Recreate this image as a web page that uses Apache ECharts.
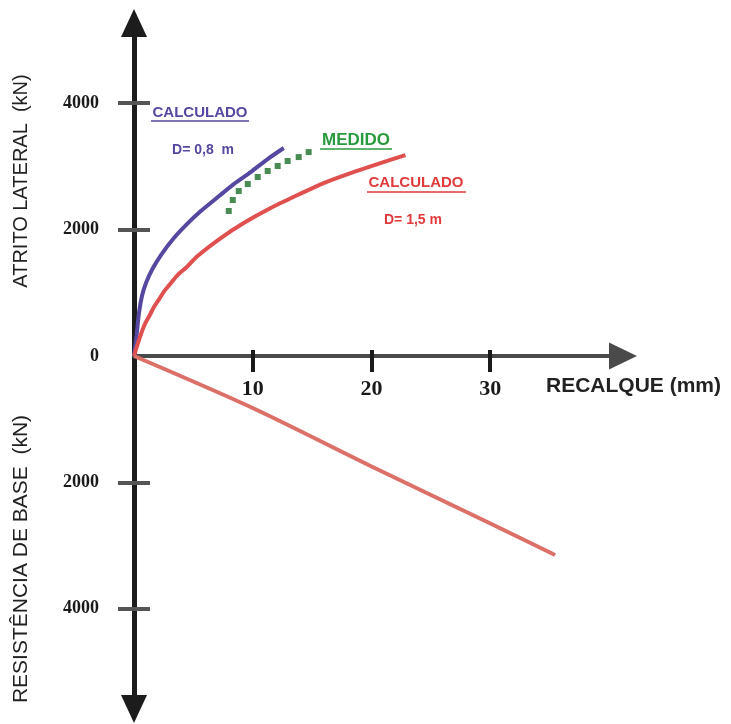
<!DOCTYPE html>
<html><head><meta charset="utf-8">
<script src="https://cdn.jsdelivr.net/npm/echarts@6/dist/echarts.min.js"></script>
<style>html,body{margin:0;padding:0;background:#fff}#c{width:731px;height:724px}</style>
</head><body><div id="c"></div>
<script>
// x: recalque (mm); y: atrito lateral (+) / resistência de base (-) in kN
const recalqueTicks = [10, 20, 30];
const forceTicks = [-4000, -2000, 0, 2000, 4000];

const calculado08 = [[0,0],[0.21,316],[0.42,680],[0.67,949],[1.01,1155],[1.55,1376],[2.27,1598],[3.36,1867],[4.37,2072],[5.63,2294],[7.06,2515],[8.40,2721],[9.83,2911],[11.26,3117],[12.61,3291]];
const calculado15 = [[0,0],[0.31,190],[0.59,348],[0.92,506],[1.29,633],[1.68,775],[2.13,902],[2.55,1028],[2.97,1123],[3.67,1281],[4.45,1408],[5.35,1582],[7.31,1867],[9.24,2104],[11.51,2341],[13.78,2547],[15.97,2737],[18.24,2895],[20.50,3037],[22.86,3180]];
const medido = [[7.98,2294],[8.32,2468],[8.82,2610],[9.58,2721],[10.42,2832],[11.26,2927],[12.10,3006],[12.94,3085],[13.87,3148],[14.71,3227]];
const resistenciaBase = [[0,0],[10.08,-830],[19.92,-1740],[29.75,-2626],[35.46,-3148]];

const SANS = '"Liberation Sans", Arial, sans-serif';
const SERIF = '"Liberation Serif", "Times New Roman", serif';

const Y_MIN = -5585, Y_MAX = 5269;
const GRID = {left: 134, right: 108, top: 23, bottom: 15};
const gridHeight = 724 - GRID.top - GRID.bottom;
// distance from the grid bottom up to the zero line, so the labelled axis sits on y = 0
const zeroOffset = -gridHeight * (0 - Y_MIN) / (Y_MAX - Y_MIN);

const chart = echarts.init(document.getElementById('c'), null, {renderer: 'canvas'});
const xCommon = {type: 'value', min: 0, max: 41.18, interval: 10, position: 'bottom', splitLine: {show: false}};
const yCommon = {type: 'value', min: Y_MIN, max: Y_MAX, position: 'left', splitLine: {show: false}};

chart.setOption({
  animation: false,
  backgroundColor: '#ffffff',
  grid: Object.assign({containLabel: false, outerBoundsMode: 'none'}, GRID),
  xAxis: [
    Object.assign({}, xCommon, {
      axisLine: {show: true, onZero: true, lineStyle: {color: '#4a4a4a', width: 4},
        symbol: ['none', 'triangle'], symbolSize: [27, 28]},
      axisTick: {show: true, inside: false, length: 16, customValues: recalqueTicks, lineStyle: {color: '#1a1a1a', width: 4}},
      axisLabel: {show: false}
    }),
    Object.assign({}, xCommon, {
      offset: zeroOffset,
      axisLine: {show: false, onZero: false},
      axisTick: {show: true, inside: true, length: 6, customValues: recalqueTicks, lineStyle: {color: '#1a1a1a', width: 4}},
      axisLabel: {show: true, margin: 22, hideOverlap: false, color: '#1a1a1a',
        fontFamily: SERIF, fontWeight: 'bold', fontSize: 22,
        formatter: v => (recalqueTicks.indexOf(v) >= 0 ? String(v) : '')}
    })
  ],
  yAxis: [
    Object.assign({}, yCommon, {
      axisLine: {show: true, onZero: true, lineStyle: {color: '#1c1c1c', width: 5},
        symbol: ['triangle', 'triangle'], symbolSize: [26, 28]},
      axisTick: {show: true, inside: true, length: 16, customValues: forceTicks.filter(v => v !== 0), lineStyle: {color: '#555555', width: 4}},
      axisLabel: {show: true, customValues: forceTicks, margin: 35, color: '#1a1a1a',
        fontFamily: SERIF, fontWeight: 'bold', fontSize: 18,
        formatter: v => String(Math.abs(v))}
    }),
    Object.assign({}, yCommon, {
      axisLine: {show: false, onZero: true},
      axisTick: {show: true, inside: false, length: 16, customValues: forceTicks.filter(v => v !== 0), lineStyle: {color: '#555555', width: 4}},
      axisLabel: {show: false}
    })
  ],
  series: [
    {type: 'line', name: 'Calculado D=0,8 m', data: calculado08, smooth: 0.25, symbol: 'none',
      lineStyle: {color: '#5548a0', width: 4}, z: 5},
    {type: 'line', name: 'Calculado D=1,5 m', data: calculado15, smooth: 0.25, symbol: 'none',
      lineStyle: {color: '#e0504f', width: 4}, z: 5},
    {type: 'scatter', name: 'Medido', data: medido, symbol: 'rect', symbolSize: 6,
      itemStyle: {color: '#1a6e28'}, z: 6},
    {type: 'line', name: 'Resistência de base', data: resistenciaBase, smooth: 0.3, symbol: 'none',
      lineStyle: {color: '#dc7068', width: 4}, z: 5}
  ],
  graphic: [
    {type: 'text', x: 200, y: 113, style: {text: 'CALCULADO', fill: '#5548a0', font: 'bold 15px ' + SANS, align: 'center', verticalAlign: 'middle'}},
    {type: 'line', shape: {x1: 151, y1: 121, x2: 249, y2: 121}, style: {stroke: '#5548a0', lineWidth: 1.5}},
    {type: 'text', x: 203, y: 150, style: {text: 'D= 0,8  m', fill: '#5548a0', font: 'bold 14px ' + SANS, align: 'center', verticalAlign: 'middle'}},
    {type: 'text', x: 356, y: 140, style: {text: 'MEDIDO', fill: '#2a9a3e', font: 'bold 17px ' + SANS, align: 'center', verticalAlign: 'middle'}},
    {type: 'line', shape: {x1: 320, y1: 149, x2: 392, y2: 149}, style: {stroke: '#2a9a3e', lineWidth: 1.5}},
    {type: 'text', x: 416, y: 183, style: {text: 'CALCULADO', fill: '#e03a3a', font: 'bold 15px ' + SANS, align: 'center', verticalAlign: 'middle'}},
    {type: 'line', shape: {x1: 367, y1: 192, x2: 466, y2: 192}, style: {stroke: '#e03a3a', lineWidth: 1.5}},
    {type: 'text', x: 413, y: 220, style: {text: 'D= 1,5 m', fill: '#e03a3a', font: 'bold 14px ' + SANS, align: 'center', verticalAlign: 'middle'}},
    {type: 'text', x: 546, y: 386, style: {text: 'RECALQUE (mm)', fill: '#222222', font: 'bold 21px ' + SANS, align: 'left', verticalAlign: 'middle'}},
    {type: 'text', x: 21, y: 181, rotation: Math.PI / 2, style: {text: 'ATRITO LATERAL  (kN)', fill: '#222222', font: '20px ' + SANS, align: 'center', verticalAlign: 'middle'}},
    {type: 'text', x: 21, y: 559, rotation: Math.PI / 2, style: {text: 'RESISTÊNCIA DE BASE  (kN)', fill: '#222222', font: '21px ' + SANS, align: 'center', verticalAlign: 'middle'}}
  ]
});
</script>
</body></html>
